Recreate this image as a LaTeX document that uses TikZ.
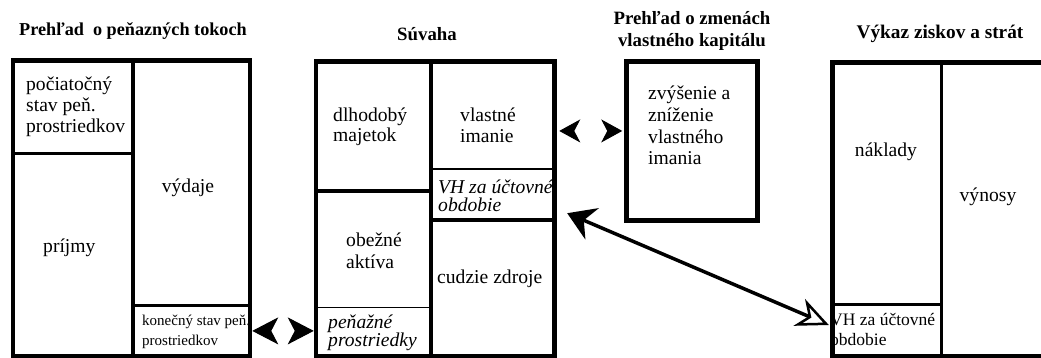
\documentclass[tikz,border=0pt]{standalone}
\usepackage{fontspec}
\setmainfont{Liberation Serif}
\usetikzlibrary{arrows.meta,fit}
\tikzset{
  ttl/.style={font=\fontsize{18.8}{21.7}\selectfont\bfseries, align=center, inner sep=0pt, anchor=base},
  txt/.style={font=\fontsize{19.6}{21.3}\selectfont, align=left, inner sep=0pt, anchor=base west},
  ctxt/.style={font=\fontsize{19.6}{21.3}\selectfont, inner sep=0pt, anchor=base},
  itxt/.style={font=\fontsize{19.6}{18.7}\selectfont\itshape, align=left, inner sep=0pt, anchor=base west},
  smalltxt/.style={font=\fontsize{15}{20}\selectfont, align=left, inner sep=0pt, anchor=base west},
  midtxt/.style={font=\fontsize{17.5}{20}\selectfont, align=left, inner sep=0pt, anchor=base west},
  frame/.style={draw, line width=4.5pt, inner sep=0pt},
  cell/.style={inner sep=0pt},
  thickdiv/.style={line width=4pt},
  middiv/.style={line width=3.2pt},
  thindiv/.style={line width=1.2pt},
  pairtipsA/.style={white, line width=1pt,
    {Stealth[color=black,length=26pt,width=27pt,inset=7pt]}-{Stealth[color=black,length=26pt,width=27pt,inset=7pt]}},
  pairtipsB/.style={white, line width=1pt,
    {Stealth[color=black,length=21pt,width=23pt,inset=6pt]}-{Stealth[color=black,length=21pt,width=23pt,inset=6pt]}},
  bigarrow/.style={line width=3.5pt,
    {Stealth[length=27pt,width=34pt,inset=9pt]}-{Stealth[open,length=32pt,width=29pt,inset=10pt,line width=2.5pt]}},
}
\begin{document}
\begin{tikzpicture}[x=1pt,y=-1pt]
\useasboundingbox (0,0) rectangle (1041,358);

% ---------- titles (base = last line) ----------
\node[ttl, font=\fontsize{18.2}{21.7}\selectfont\bfseries] (tA) at (133,36) {Prehľad~~o peňazných tokoch};
\node[ttl] (tB) at (427,40.7) {Súvaha};
\node[ttl] (tC) at (692,46.7) {Prehľad o zmenách\\vlastného kapitálu};
\node[ttl, font=\fontsize{19.3}{21.7}\selectfont\bfseries] (tD) at (940,38.3) {Výkaz ziskov a strát};

% ---------- texts (base = last line) ----------
\node[txt] (xPoc) at (26,133) {počiatočný\\stav peň.\\prostriedkov};
\node[ctxt] (xVyd) at (188,193) {výdaje};
\node[txt] (xPri) at (43,252) {príjmy};
\node[smalltxt] (xKon) at (142,345) {konečný stav peň.\\prostriedkov};

\node[txt, font=\fontsize{19.6}{20.5}\selectfont] (xDlh) at (333,141.7) {dlhodobý\\majetok};
\node[txt] (xVla) at (460,142.5) {vlastné\\imanie};
\node[itxt] (xVHb) at (438,211.7) {VH za účtovné\\obdobie};
\node[txt] (xObe) at (346,268) {obežné\\aktíva};
\node[txt] (xCud) at (437,283) {cudzie zdroje};
\node[itxt] (xPen) at (328,346.7) {peňažné\\prostriedky};

\node[txt, font=\fontsize{19.6}{21.7}\selectfont] (xZvy) at (648,165) {zvýšenie a\\zníženie\\vlastného\\imania};

\node[ctxt] (xNak) at (886,156.7) {náklady};
\node[ctxt] (xVyn) at (988,201.7) {výnosy};
\node[midtxt] (xVHd) at (830,345) {VH za účtovné\\obdobie};

% ---------- cells (for connectors) ----------
\node[cell, fit={(133,305.3) (250,356.5)}] (konecny) {};
\node[cell, fit={(316,307.3) (430.7,356.5)}] (penazne) {};
\node[cell, fit={(430.7,61.7) (554.5,169)}] (vlastne) {};
\node[cell, fit={(430.7,169) (554.5,220)}] (vhB) {};
\node[cell, fit={(832,304.5) (941.5,356.5)}] (vhD) {};

% ---------- frames ----------
\node[frame, fit={(13,60.5) (250,356.5)}] (cf) {};
\draw[thickdiv] (133,60.5) -- (133,356.5);
\draw[middiv] (13,153.7) -- (133,153.7);
\draw[middiv] (133,305.3) -- (250,305.3);

\node[frame, fit={(316,61.7) (554.5,356.5)}] (bal) {};
\draw[thickdiv] (430.7,61.7) -- (430.7,356.5);
\draw[middiv] (316,191) -- (430.7,191);
\draw[thindiv] (316,307.3) -- (430.7,307.3);
\draw[thindiv] (430.7,169) -- (554.5,169);
\draw[middiv] (430.7,220) -- (554.5,220);

\node[frame, fit={(626.5,61.7) (757.5,220.5)}] (zmeny) {};

\node[frame, line width=5pt, fit={(832,63) (1060,356.5)}] (vzs) {};
\draw[middiv] (941.5,63) -- (941.5,356.5);
\draw[middiv] (832,304.5) -- (941.5,304.5);

% ---------- connectors ----------
\draw[pairtipsA] (cf.east |- konecny.east) -- (bal.west |- konecny.east);
\coordinate (p2) at ([yshift=-15.6pt]vlastne.east);
\draw[pairtipsB, shorten <=2.5pt, shorten >=2pt] (bal.east |- p2) -- (zmeny.west |- p2);
\draw[bigarrow] ([xshift=12.5pt,yshift=7pt]vhB.south east) -- ([xshift=-3pt,yshift=5.5pt]vhD.west);
\end{tikzpicture}
\end{document}
